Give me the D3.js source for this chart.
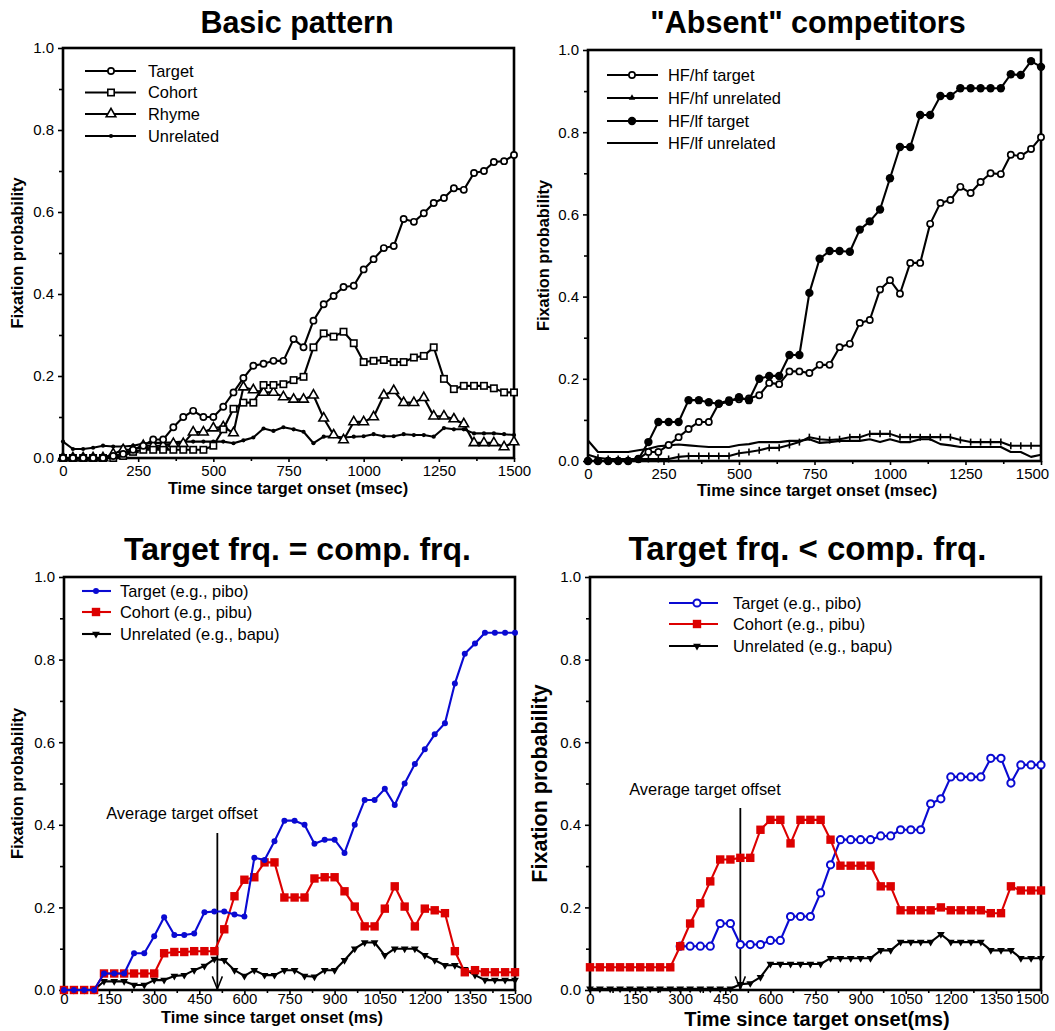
<!DOCTYPE html>
<html><head><meta charset="utf-8">
<script src="https://cdn.jsdelivr.net/npm/d3@7"></script>
<style>
body{margin:0;background:#fff}
svg{display:block}
text{font-family:"Liberation Sans",Arial,Helvetica,sans-serif;fill:#000}
</style>
</head><body>
<svg id="chart" width="1055" height="1031"></svg>
<script>
// Sampling times (ms after target onset), one sample per video frame
const times = [0,33,67,100,133,167,200,233,267,300,333,367,400,433,467,500,533,567,600,633,667,700,733,767,800,833,867,900,933,967,1000,1033,1067,1100,1133,1167,1200,1233,1267,1300,1333,1367,1400,1433,1467,1500];

// Basic pattern
const basicTarget    = [0,0,0,0,0,0.005,0.01,0.02,0.03,0.045,0.045,0.075,0.10,0.115,0.10,0.10,0.125,0.16,0.195,0.225,0.23,0.237,0.237,0.29,0.27,0.335,0.375,0.395,0.417,0.42,0.46,0.485,0.512,0.517,0.583,0.576,0.597,0.622,0.634,0.658,0.654,0.695,0.70,0.722,0.724,0.739];
const basicCohort    = [0,0,0,0,0,0,0.005,0.015,0.02,0.02,0.02,0.02,0.02,0.02,0.02,0.03,0.07,0.12,0.135,0.135,0.178,0.178,0.18,0.19,0.198,0.27,0.304,0.296,0.308,0.28,0.234,0.237,0.239,0.234,0.234,0.245,0.249,0.27,0.193,0.168,0.176,0.176,0.176,0.17,0.16,0.16];
const basicRhyme     = [0,0,0,0,0,0.01,0.02,0.02,0.03,0.03,0.03,0.035,0.035,0.063,0.063,0.073,0.076,0.061,0.173,0.166,0.16,0.16,0.149,0.143,0.143,0.153,0.097,0.056,0.044,0.088,0.088,0.10,0.153,0.164,0.135,0.135,0.147,0.102,0.102,0.095,0.083,0.037,0.037,0.037,0.027,0.039];
const basicUnrelated = [0.04,0.022,0.022,0.025,0.03,0.028,0.028,0.03,0.035,0.037,0.037,0.038,0.04,0.04,0.04,0.04,0.04,0.036,0.043,0.05,0.072,0.066,0.075,0.07,0.064,0.036,0.052,0.053,0.05,0.052,0.053,0.058,0.053,0.053,0.058,0.056,0.056,0.052,0.073,0.07,0.07,0.06,0.06,0.06,0.058,0.056];

// "Absent" competitors
const absentHfTarget    = [0,0,0,0,0,0.005,0.022,0.022,0.039,0.058,0.078,0.095,0.095,0.14,0.148,0.15,0.152,0.16,0.19,0.187,0.218,0.218,0.214,0.234,0.234,0.277,0.285,0.336,0.343,0.417,0.44,0.407,0.482,0.482,0.577,0.628,0.635,0.667,0.652,0.679,0.7,0.698,0.745,0.742,0.759,0.788];
const absentHfUnrelated = [0.015,0.008,0.005,0.005,0.005,0.005,0.005,0.005,0.005,0.01,0.012,0.012,0.012,0.012,0.012,0.019,0.022,0.026,0.032,0.032,0.039,0.046,0.058,0.053,0.051,0.053,0.058,0.058,0.066,0.066,0.066,0.058,0.058,0.058,0.058,0.058,0.058,0.051,0.046,0.046,0.046,0.046,0.037,0.037,0.037,0.037];
const absentLfTarget    = [0,0,0,0,0,0.005,0.046,0.095,0.095,0.095,0.148,0.148,0.143,0.139,0.144,0.155,0.148,0.2,0.207,0.207,0.258,0.258,0.409,0.492,0.511,0.511,0.509,0.563,0.583,0.612,0.688,0.764,0.764,0.842,0.842,0.888,0.888,0.907,0.907,0.907,0.907,0.907,0.941,0.939,0.973,0.959];
const absentLfUnrelated = [0.05,0.022,0.022,0.022,0.022,0.026,0.03,0.036,0.038,0.04,0.038,0.036,0.034,0.034,0.034,0.039,0.041,0.046,0.046,0.046,0.049,0.049,0.053,0.044,0.046,0.049,0.049,0.049,0.053,0.046,0.053,0.046,0.046,0.053,0.053,0.041,0.038,0.034,0.034,0.034,0.034,0.034,0.022,0.022,0.01,0.015];

// Target frequency = competitor frequency
const equalTarget    = [0,0,0,0,0.04,0.04,0.04,0.089,0.089,0.13,0.176,0.133,0.133,0.137,0.188,0.19,0.19,0.183,0.178,0.32,0.315,0.36,0.41,0.41,0.4,0.354,0.364,0.364,0.332,0.4,0.46,0.46,0.487,0.448,0.5,0.547,0.583,0.619,0.646,0.742,0.814,0.839,0.865,0.865,0.865,0.865];
const equalCohort    = [0,0,0,0,0.04,0.04,0.04,0.04,0.04,0.04,0.089,0.092,0.092,0.094,0.094,0.094,0.147,0.227,0.267,0.273,0.309,0.309,0.224,0.224,0.224,0.27,0.273,0.273,0.239,0.202,0.154,0.154,0.197,0.251,0.202,0.154,0.197,0.193,0.186,0.094,0.043,0.048,0.043,0.043,0.043,0.043];
const equalUnrelated = [0,0,0,0,0.021,0.021,0.021,0.012,0.012,0.024,0.024,0.034,0.036,0.048,0.058,0.075,0.072,0.048,0.034,0.048,0.036,0.036,0.048,0.048,0.034,0.032,0.048,0.048,0.072,0.1,0.115,0.115,0.084,0.1,0.1,0.1,0.084,0.072,0.06,0.06,0.05,0.036,0.024,0.024,0.024,0.024];

// Target frequency < competitor frequency
const lowerTarget    = [null,null,null,null,null,null,null,null,null,0.106,0.106,0.106,0.106,0.161,0.161,0.11,0.11,0.11,0.12,0.12,0.178,0.178,0.178,0.235,0.303,0.364,0.364,0.364,0.364,0.373,0.373,0.388,0.388,0.388,0.451,0.463,0.516,0.516,0.516,0.516,0.561,0.561,0.501,0.545,0.545,0.545];
const lowerCohort    = [0.055,0.055,0.055,0.055,0.055,0.055,0.055,0.055,0.055,0.106,0.161,0.21,0.263,0.316,0.316,0.32,0.32,0.388,0.412,0.412,0.355,0.412,0.412,0.412,0.364,0.301,0.301,0.301,0.301,0.251,0.251,0.193,0.193,0.193,0.193,0.2,0.193,0.193,0.193,0.193,0.186,0.186,0.251,0.241,0.241,0.241];
const lowerUnrelated = [0.003,0.003,0.003,0.003,0.003,0.003,0.003,0.003,0.003,0.003,0.003,0.003,0.003,0.003,0.003,0.014,0.016,0.031,0.063,0.063,0.063,0.063,0.063,0.063,0.077,0.077,0.077,0.077,0.077,0.096,0.096,0.116,0.116,0.116,0.116,0.135,0.116,0.116,0.116,0.116,0.096,0.096,0.096,0.077,0.077,0.077];

// Axis ticks
const yTicks      = [0,0.2,0.4,0.6,0.8,1.0];
const yMinorTicks = [0.1,0.3,0.5,0.7,0.9];
const msecTicks      = [0,250,500,750,1000,1250,1500];
const msecMinorTicks = [125,375,625,875,1125,1375];
const msTicks      = [0,150,300,450,600,750,900,1050,1200,1350,1500];
const msMinorTicks = [75,225,375,525,675,825,975,1125,1275,1425];

// Average target offsets (ms)
const offsetEqual = 510;
const offsetLower = 500;

const BLUE = "#0a0ad2", RED = "#dc0000", BLACK = "#000";

const svg = d3.select("#chart");

function marker(g, type, x, y, color) {
  switch (type) {
    case "openCircle":
      g.append("circle").attr("cx", x).attr("cy", y).attr("r", 3.1)
        .attr("fill", "#fff").attr("stroke", color).attr("stroke-width", 1.7); break;
    case "openCircleBig":
      g.append("circle").attr("cx", x).attr("cy", y).attr("r", 3.6)
        .attr("fill", "#fff").attr("stroke", color).attr("stroke-width", 2); break;
    case "filledCircle":
      g.append("circle").attr("cx", x).attr("cy", y).attr("r", 4.2).attr("fill", color); break;
    case "dot":
      g.append("circle").attr("cx", x).attr("cy", y).attr("r", 3).attr("fill", color); break;
    case "smallDot":
      g.append("circle").attr("cx", x).attr("cy", y).attr("r", 2.1).attr("fill", color); break;
    case "openSquare":
      g.append("rect").attr("x", x - 3.2).attr("y", y - 3.2).attr("width", 6.4).attr("height", 6.4)
        .attr("fill", "#fff").attr("stroke", color).attr("stroke-width", 1.6); break;
    case "filledSquare":
      g.append("rect").attr("x", x - 4.2).attr("y", y - 4.2).attr("width", 8.4).attr("height", 8.4).attr("fill", color); break;
    case "openTriangle":
      g.append("path").attr("d", d3.symbol(d3.symbolTriangle, 40)())
        .attr("transform", `translate(${x},${y})`)
        .attr("fill", "#fff").attr("stroke", color).attr("stroke-width", 1.6); break;
    case "smallTriangle":
      g.append("path").attr("d", d3.symbol(d3.symbolTriangle, 18)())
        .attr("transform", `translate(${x},${y})`).attr("fill", color); break;
    case "downTriangle":
      g.append("path").attr("d", d3.symbol(d3.symbolTriangle, 26)())
        .attr("transform", `translate(${x},${y}) rotate(180)`).attr("fill", color); break;
    case "tick":
      g.append("line").attr("x1", x).attr("x2", x).attr("y1", y - 3.5).attr("y2", y + 3.5)
        .attr("stroke", color).attr("stroke-width", 1.6); break;
    default: break;
  }
}

const panels = [
  {
    title: "Basic pattern", titleX: 297, titleY: 33, titleSize: 30.5,
    xRange: [63, 514], yRange: [458, 48],
    xTicks: msecTicks, xMinor: msecMinorTicks, xTickPad: 3, lastLabelDx: 0,
    xTitle: "Time since target onset (msec)", xTitleX: 288, xTitleY: 494, xTitleSize: 16.4,
    yTitle: "Fixation probability", yTitleX: 23, yTitleSize: 16.4,
    series: [
      { name: "Unrelated", values: basicUnrelated, color: BLACK, marker: "smallDot" },
      { name: "Rhyme", values: basicRhyme, color: BLACK, marker: "openTriangle" },
      { name: "Cohort", values: basicCohort, color: BLACK, marker: "openSquare" },
      { name: "Target", values: basicTarget, color: BLACK, marker: "openCircle" }
    ],
    legend: { order: ["Target", "Cohort", "Rhyme", "Unrelated"], x0: 85, x1: 136, xm: 111, xt: 148, rows: [71, 92.5, 114, 136], size: 16.4 }
  },
  {
    title: "\"Absent\" competitors", titleX: 808, titleY: 33, titleSize: 30.5,
    xRange: [588, 1041], yRange: [461, 50],
    xTicks: msecTicks, xMinor: msecMinorTicks, xTickPad: 3, lastLabelDx: -9,
    xTitle: "Time since target onset (msec)", xTitleX: 817, xTitleY: 496, xTitleSize: 16.4,
    yTitle: "Fixation probability", yTitleX: 549, yTitleSize: 16.4,
    series: [
      { name: "HF/lf unrelated", values: absentLfUnrelated, color: BLACK, marker: "none" },
      { name: "HF/hf unrelated", values: absentHfUnrelated, color: BLACK, marker: "tick", legendMarker: "smallTriangle" },
      { name: "HF/hf target", values: absentHfTarget, color: BLACK, marker: "openCircle" },
      { name: "HF/lf target", values: absentLfTarget, color: BLACK, marker: "filledCircle" }
    ],
    legend: { order: ["HF/hf target", "HF/hf unrelated", "HF/lf target", "HF/lf unrelated"], x0: 607, x1: 658, xm: 632, xt: 668, rows: [75, 98, 121, 143], size: 16.4 }
  },
  {
    title: "Target frq. = comp. frq.", titleX: 297.5, titleY: 560, titleSize: 32,
    xRange: [64, 515], yRange: [990, 577],
    xTicks: msTicks, xMinor: msMinorTicks, xTickPad: -1, lastLabelDx: 0,
    xTitle: "Time since target onset (ms)", xTitleX: 272, xTitleY: 1023, xTitleSize: 16.4,
    yTitle: "Fixation probability", yTitleX: 23, yTitleSize: 16.4,
    series: [
      { name: "Unrelated (e.g., bapu)", values: equalUnrelated, color: BLACK, marker: "downTriangle" },
      { name: "Cohort (e.g., pibu)", values: equalCohort, color: RED, marker: "filledSquare" },
      { name: "Target (e.g., pibo)", values: equalTarget, color: BLUE, marker: "dot" }
    ],
    legend: { order: ["Target (e.g., pibo)", "Cohort (e.g., pibu)", "Unrelated (e.g., bapu)"], x0: 82, x1: 111, xm: 96, xt: 120, rows: [591, 612, 634], size: 16.4 },
    offset: { t: offsetEqual, top: 833, textX: 182, textY: 819 }
  },
  {
    title: "Target frq. < comp. frq.", titleX: 807.5, titleY: 560, titleSize: 33,
    xRange: [590, 1041], yRange: [990, 577],
    xTicks: msTicks, xMinor: msMinorTicks, xTickPad: -1, lastLabelDx: -9,
    xTitle: "Time since target onset(ms)", xTitleX: 817, xTitleY: 1026, xTitleSize: 20,
    yTitle: "Fixation probability", yTitleX: 547, yTitleSize: 21.5,
    series: [
      { name: "Target (e.g., pibo)", values: lowerTarget, color: BLUE, marker: "openCircleBig" },
      { name: "Cohort (e.g., pibu)", values: lowerCohort, color: RED, marker: "filledSquare" },
      { name: "Unrelated (e.g., bapu)", values: lowerUnrelated, color: BLACK, marker: "downTriangle" }
    ],
    legend: { order: ["Target (e.g., pibo)", "Cohort (e.g., pibu)", "Unrelated (e.g., bapu)"], x0: 669, x1: 718, xm: 697, xt: 733, rows: [603, 624, 646], size: 16.4 },
    offset: { t: offsetLower, top: 808, textX: 705, textY: 795 }
  }
];

svg.append("defs").append("marker")
  .attr("id", "arrowHead").attr("viewBox", "0 0 10 10").attr("refX", 10).attr("refY", 5)
  .attr("markerWidth", 7).attr("markerHeight", 9).attr("orient", "auto")
  .append("path").attr("d", "M0,1 L10,5 L0,9").attr("fill", "none").attr("stroke", "#000").attr("stroke-width", 1.2);

panels.forEach(p => {
  const x = d3.scaleLinear().domain([0, 1500]).range(p.xRange);
  const y = d3.scaleLinear().domain([0, 1]).range(p.yRange);
  const g = svg.append("g");

  // title
  g.append("text").attr("x", p.titleX).attr("y", p.titleY).attr("text-anchor", "middle")
    .attr("font-size", p.titleSize).attr("font-weight", "bold").text(p.title);

  // axes
  const styleAxis = sel => {
    sel.select(".domain").remove();
    sel.selectAll(".tick line").attr("stroke", "#000").attr("stroke-width", 1.6);
    sel.selectAll(".tick text").attr("font-size", 15).attr("fill", "#000")
      .attr("font-family", "'Liberation Sans', Arial, sans-serif");
  };
  const xAxis = g.append("g").attr("transform", `translate(0,${p.yRange[0]})`)
    .call(d3.axisBottom(x).tickValues(p.xTicks).tickFormat(d3.format("d")).tickSize(4).tickPadding(p.xTickPad))
    .call(styleAxis);
  xAxis.selectAll(".tick text").filter(d => d === 1500).attr("dx", p.lastLabelDx);
  g.append("g").attr("transform", `translate(0,${p.yRange[0]})`)
    .call(d3.axisBottom(x).tickValues(p.xMinor).tickFormat("").tickSize(3))
    .call(styleAxis);
  g.append("g").attr("transform", `translate(${p.xRange[0]},0)`)
    .call(d3.axisLeft(y).tickValues(yTicks).tickFormat(d3.format(".1f")).tickSize(5).tickPadding(4))
    .call(styleAxis);
  g.append("g").attr("transform", `translate(${p.xRange[0]},0)`)
    .call(d3.axisLeft(y).tickValues(yMinorTicks).tickFormat("").tickSize(4))
    .call(styleAxis);

  // frame
  g.append("rect").attr("x", p.xRange[0]).attr("y", p.yRange[1])
    .attr("width", p.xRange[1] - p.xRange[0]).attr("height", p.yRange[0] - p.yRange[1])
    .attr("fill", "none").attr("stroke", "#000").attr("stroke-width", 2.6);

  // axis titles
  g.append("text").attr("x", p.xTitleX).attr("y", p.xTitleY).attr("text-anchor", "middle")
    .attr("font-size", p.xTitleSize).attr("font-weight", "bold").text(p.xTitle);
  const yMid = (p.yRange[0] + p.yRange[1]) / 2;
  g.append("text").attr("transform", `translate(${p.yTitleX},${yMid}) rotate(-90)`)
    .attr("text-anchor", "middle").attr("font-size", p.yTitleSize).attr("font-weight", "bold").text(p.yTitle);

  // average target offset marker
  if (p.offset) {
    g.append("line").attr("x1", x(p.offset.t)).attr("x2", x(p.offset.t))
      .attr("y1", p.offset.top).attr("y2", p.yRange[0] - 1)
      .attr("stroke", "#000").attr("stroke-width", 1.8).attr("marker-end", "url(#arrowHead)");
    g.append("text").attr("x", p.offset.textX).attr("y", p.offset.textY).attr("text-anchor", "middle")
      .attr("font-size", 16.4).text("Average target offset");
  }

  // series
  const line = d3.line().defined(d => d[1] != null).x(d => x(d[0])).y(d => y(d[1]));
  p.series.forEach(s => {
    const pts = times.map((t, i) => [t, s.values[i]]);
    g.append("path").attr("d", line(pts)).attr("fill", "none")
      .attr("stroke", s.color).attr("stroke-width", 2.1).attr("stroke-linejoin", "round");
    const mg = g.append("g");
    pts.filter(d => d[1] != null).forEach(d => marker(mg, s.marker, x(d[0]), y(d[1]), s.color));
  });

  // legend
  const lg = g.append("g");
  p.legend.order.forEach((name, k) => {
    const s = p.series.find(v => v.name === name);
    const ry = p.legend.rows[k];
    lg.append("line").attr("x1", p.legend.x0).attr("x2", p.legend.x1).attr("y1", ry).attr("y2", ry)
      .attr("stroke", s.color).attr("stroke-width", 2.1);
    marker(lg, s.legendMarker || s.marker, p.legend.xm, ry, s.color);
    lg.append("text").attr("x", p.legend.xt).attr("y", ry).attr("dy", "0.35em")
      .attr("font-size", p.legend.size).text(name);
  });
});
</script>
</body></html>
